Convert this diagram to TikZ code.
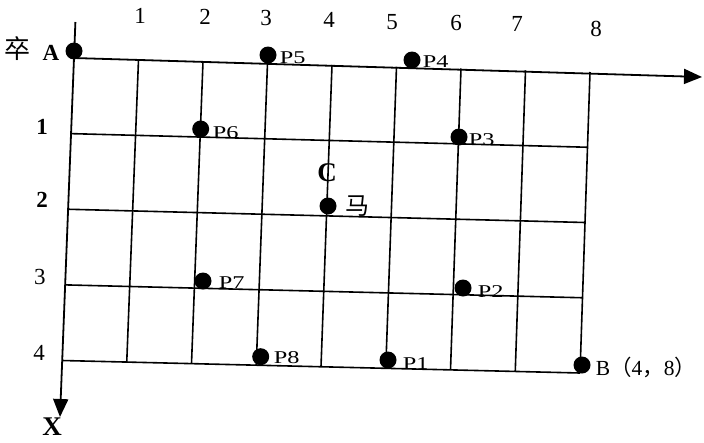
\documentclass[tikz,border=0pt]{standalone}
\usepackage{fontspec}
\setmainfont{Liberation Serif}
\newfontfamily\cjk{Noto Sans CJK SC}
\usetikzlibrary{arrows.meta}
\newcommand{\wide}[1]{\scalebox{1.35}[1]{#1}}
\begin{document}
\begin{tikzpicture}[x=1pt,y=-1pt,line width=1.6pt,
  dot/.style={circle,fill=black,inner sep=0pt,minimum size=17pt},
  plab/.style={anchor=base west,font=\fontsize{18}{18}\selectfont,inner sep=0pt},
  num/.style={font=\fontsize{23}{23}\selectfont,inner sep=0pt},
  bnum/.style={font=\fontsize{23}{23}\selectfont\bfseries,inner sep=0pt},
  gridline/.style={line width=1.6pt},
  axis/.style={line width=1.8pt,-{Triangle[length=18pt,width=15pt]}}]
\useasboundingbox (0,0) rectangle (704,442);
% grid intersections (skewed, bilinear)
\foreach \r in {0,...,4}{
  \foreach \c in {0,...,8}{
    \pgfmathsetmacro\s{\r/4}
    \pgfmathsetmacro\t{\c/8}
    \pgfmathsetmacro\gx{(1-\s)*((1-\t)*74+\t*590)+\s*((1-\t)*62+\t*580)}
    \pgfmathsetmacro\gy{(1-\s)*((1-\t)*58+\t*72)+\s*((1-\t)*360.5+\t*373)}
    \coordinate (g\r\c) at (\gx,\gy);
  }
}
\foreach \r in {1,...,4}{\draw[gridline] (g\r0) -- (g\r8);}
\foreach \c in {1,...,8}{\draw[gridline] (g0\c) -- (g4\c);}
% axes
\coordinate (xtop) at (75.4,22);
\coordinate (xend) at (60,417);
\coordinate (yend) at (702,77);
\draw[axis] (xtop) -- (xend);
\draw[axis] (g00) -- (yend);
% axis labels
\foreach \n/\x/\y in {1/140/15.5,2/205/16.7,3/266/18.3,4/329/20,5/392/21.7,6/456/23,7/517/23.5,8/596/29}{
  \node[num] (top\n) at (\x,\y) {\n};
}
\node[bnum] (left1) at (42,127) {1};
\node[bnum] (left2) at (42,200) {2};
\node[num] (left3) at (40,277) {3};
\node[num] (left4) at (39,353) {4};
\node[font=\fontsize{26}{26}\selectfont\cjk,inner sep=0pt] (zu) at (17.5,49) {卒};
\node[font=\fontsize{23}{23}\selectfont\bfseries,inner sep=0pt] (alab) at (51,53) {A};
\node[font=\fontsize{27}{27}\selectfont\bfseries,inner sep=0pt] (xlab) at (52,427) {X};
% points
\node[dot] (A) at (74,51) {};
\node[dot] (P5) at (268,55) {};
\node[dot] (P4) at (412,60) {};
\node[dot] (P6) at (200.7,129) {};
\node[dot] (P3) at (459,137) {};
\node[dot] (C) at (328,206) {};
\node[dot] (P7) at (203,281) {};
\node[dot] (P2) at (463,288) {};
\node[dot] (P8) at (260.7,356.7) {};
\node[dot] (P1) at (388,360) {};
\node[dot] (B) at (582,365) {};
% point labels
\node[plab] (l5) at (279,63) {\wide{P5}};
\node[plab] (l4) at (422,67) {\wide{P4}};
\node[plab] (l6) at (212,138) {\wide{P6}};
\node[plab] (l3) at (468,145) {\wide{P3}};
\node[plab] (l7) at (218,288) {\wide{P7}};
\node[plab] (l2) at (477,297) {\wide{P2}};
\node[plab] (l8) at (273,363) {\wide{P8}};
\node[plab] (l1) at (402,369) {\wide{P1}};
\node[font=\fontsize{27}{27}\selectfont\bfseries,inner sep=0pt] (clab) at (327,172.5) {C};
\node[font=\fontsize{24}{24}\selectfont\cjk,inner sep=0pt] (ma) at (357,206) {马};
\node[anchor=base west,inner sep=0pt,font=\fontsize{21.5}{21.5}\selectfont] (blab) at (595,375) {B{\cjk（}4{\cjk，}8{\cjk）}};
\end{tikzpicture}
\end{document}
